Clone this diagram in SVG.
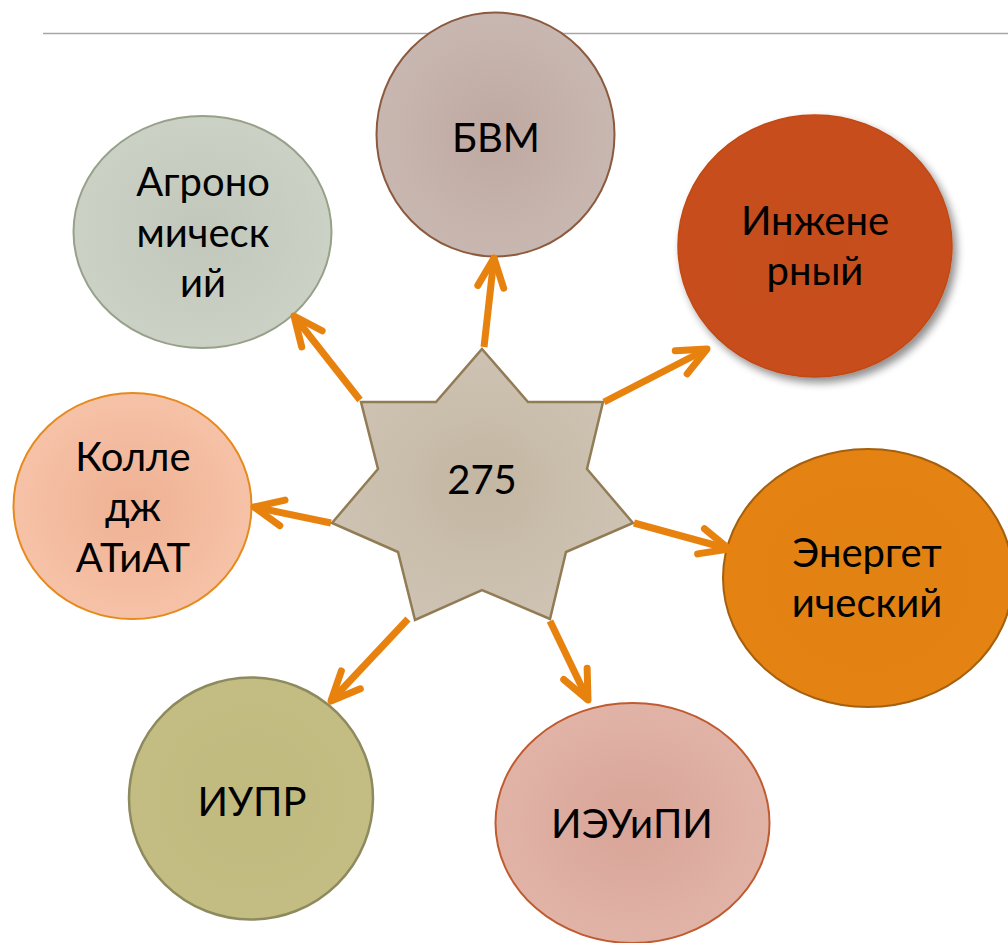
<svg xmlns="http://www.w3.org/2000/svg" width="1008" height="943" viewBox="0 0 1008 943">
<style>
.lbl{font-family:Lato,"Open Sans","Noto Sans",sans-serif;font-size:40px;fill:#000;text-anchor:middle}
.arr{fill:none;stroke:#E8820F;stroke-width:7;stroke-linecap:butt}
</style>
<defs>
<marker id="ah" markerUnits="userSpaceOnUse" orient="auto" markerWidth="50" markerHeight="50" refX="0" refY="0" viewBox="-40 -25 50 50" overflow="visible">
<path d="M -29 -13 L 0 0 L -29 13" fill="none" stroke="#E8820F" stroke-width="7" stroke-linecap="round" stroke-linejoin="round"/>
</marker>
<radialGradient id="gB"><stop offset="0" stop-color="#BFA9A2"/><stop offset="1" stop-color="#C8B7B0"/></radialGradient>
<radialGradient id="gA"><stop offset="0" stop-color="#C1C7BA"/><stop offset="1" stop-color="#CBD1C5"/></radialGradient>
<radialGradient id="gI"><stop offset="0" stop-color="#C54E1B"/><stop offset="1" stop-color="#C84E1A"/></radialGradient>
<radialGradient id="gE"><stop offset="0" stop-color="#E28213"/><stop offset="1" stop-color="#E48212"/></radialGradient>
<radialGradient id="gK"><stop offset="0" stop-color="#EFB193"/><stop offset="1" stop-color="#F6C2A7"/></radialGradient>
<radialGradient id="gU"><stop offset="0" stop-color="#C1BA7F"/><stop offset="1" stop-color="#C4BD83"/></radialGradient>
<radialGradient id="gP"><stop offset="0" stop-color="#D8A497"/><stop offset="1" stop-color="#E1B3A7"/></radialGradient>
<radialGradient id="gS"><stop offset="0" stop-color="#C3B6A2"/><stop offset="1" stop-color="#CEC3B3"/></radialGradient>
<filter id="sh" x="-20%" y="-20%" width="140%" height="140%"><feGaussianBlur in="SourceAlpha" stdDeviation="4"/><feOffset dx="4" dy="5"/><feComponentTransfer><feFuncA type="linear" slope="0.45"/></feComponentTransfer><feMerge><feMergeNode/><feMergeNode in="SourceGraphic"/></feMerge></filter>
</defs>
<rect width="1008" height="943" fill="#FFFFFF"/>
<line x1="43" y1="33.5" x2="1008" y2="33.5" stroke="#A6A6A6" stroke-width="1.5"/>

<g id="node-bvm">
<ellipse cx="495.5" cy="134.5" rx="119" ry="122" fill="url(#gB)" stroke="#8B5A3F" stroke-width="2"/>
<text class="lbl" x="496" y="152">БВМ</text>
</g>
<g id="node-agro">
<ellipse cx="202.5" cy="232" rx="129" ry="116" fill="url(#gA)" stroke="#97A18A" stroke-width="2"/>
<text class="lbl" x="203" y="196">Агроно</text>
<text class="lbl" x="203" y="247">мическ</text>
<text class="lbl" x="203" y="297">ий</text>
</g>
<g id="node-inzh">
<ellipse cx="815" cy="246" rx="137" ry="131" fill="url(#gI)" stroke="#C04A18" stroke-width="1.5" filter="url(#sh)"/>
<text class="lbl" x="815" y="235">Инжене</text>
<text class="lbl" x="815" y="285">рный</text>
</g>
<g id="node-energ">
<ellipse cx="868" cy="578" rx="145" ry="129" fill="url(#gE)" stroke="#A5600F" stroke-width="2"/>
<text class="lbl" x="867" y="567">Энергет</text>
<text class="lbl" x="867" y="617">ический</text>
</g>
<g id="node-koll">
<ellipse cx="132.5" cy="506" rx="119" ry="113" fill="url(#gK)" stroke="#E68A1E" stroke-width="2"/>
<text class="lbl" x="133" y="471">Колле</text>
<text class="lbl" x="133" y="521">дж</text>
<text class="lbl" x="133" y="572">АТиАТ</text>
</g>
<g id="node-iupr">
<ellipse cx="251" cy="798.5" rx="122" ry="121" fill="url(#gU)" stroke="#8D8A5E" stroke-width="2.5"/>
<text class="lbl" x="252" y="816">ИУПР</text>
</g>
<g id="node-ieuipi">
<ellipse cx="632.5" cy="823" rx="137" ry="120" fill="url(#gP)" stroke="#C05B30" stroke-width="2"/>
<text class="lbl" x="632" y="838">ИЭУиПИ</text>
</g>

<g id="center-star">
<polygon points="482,349 528,402 603,402 587,469 633,523 566,552 550,619 482,590 415,620 398,552 332,523 378,469 361,402 436,402" fill="url(#gS)" stroke="#917C55" stroke-width="2.5" stroke-linejoin="miter"/>
<text class="lbl" x="482" y="494">275</text>
</g>

<g id="connectors">
<path class="arr" d="M 484 347 L 494 258" marker-end="url(#ah)"/>
<path class="arr" d="M 360 400 L 294 316" marker-end="url(#ah)"/>
<path class="arr" d="M 331 523 L 254 507" marker-end="url(#ah)"/>
<path class="arr" d="M 604 402 L 707 349" marker-end="url(#ah)"/>
<path class="arr" d="M 634 523 L 729 549" marker-end="url(#ah)"/>
<path class="arr" d="M 408 619 L 331 701" marker-end="url(#ah)"/>
<path class="arr" d="M 550 621 L 588 700" marker-end="url(#ah)"/>
</g>
</svg>
